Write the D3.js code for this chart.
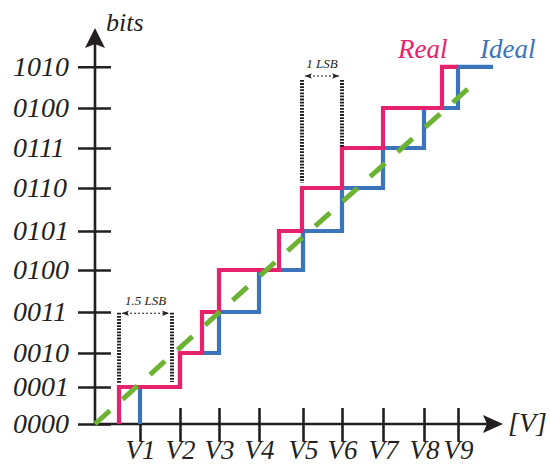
<!DOCTYPE html>
<html>
<head>
<meta charset="utf-8">
<script src="https://cdn.jsdelivr.net/npm/d3@7"></script>
<style>
  html, body { margin: 0; padding: 0; background: #ffffff; }
  svg { display: block; }
  text { font-family: "Liberation Serif", "Times New Roman", serif; font-style: italic; }
</style>
</head>
<body>
<svg id="chart" width="550" height="464"></svg>
<script>
// Input voltage thresholds (axis units) and their labels
const vLabels = ["V1", "V2", "V3", "V4", "V5", "V6", "V7", "V8", "V9"];
const vTicks = [1.125, 2.125, 3.1, 4.1, 5.2, 6.175, 7.2, 8.225, 9.075];

// Output codes and their heights on the vertical axis
const codeLabels = ["0000", "0001", "0010", "0011", "0100", "0101", "0110", "0111", "0100", "1010"];
const codeLevels = [0, 0.925, 1.775, 2.8, 3.85, 4.825, 5.9, 6.9, 7.9, 8.93];

// Transition voltages: ideal converter steps at V1..V9, real converter elsewhere
const idealSteps = [1.125, 2.125, 3.1, 4.1, 5.2, 6.175, 7.2, 8.225, 9.075];
const idealEnd = 9.95;
const realSteps = [0.6, 2.125, 2.675, 3.1, 4.6, 5.175, 6.175, 7.2, 8.675];
const realEnd = 9.075;

// Straight-line ideal transfer characteristic
const idealLine = [[0, 0], [9.625, 8.65]];

// LSB width annotations: x span, top, bottom of each side
const lsbMarks = [
  { label: "1.5 LSB", x0: 0.6, x1: 1.925, top: 2.78, bottom0: 1.02, bottom1: 1.05, arrowY: 2.77 },
  { label: "1 LSB",   x0: 5.175, x1: 6.175, top: 8.6, bottom0: 6.03, bottom1: 6.93, arrowY: 8.7 }
];

const colors = { real: "#e6226d", ideal: "#3b74ba", line: "#6cb334", ink: "#231f20" };
const serif = "'Liberation Serif', 'Times New Roman', serif";

const svg = d3.select("#chart");
const x = d3.scaleLinear().domain([0, 10.2]).range([95, 503]);
const y = d3.scaleLinear().domain([0, 9.9]).range([424, 28]);

const defs = svg.append("defs");
function arrowMarker(id, size) {
  defs.append("marker")
    .attr("id", id)
    .attr("viewBox", "0 0 10 10")
    .attr("refX", 10).attr("refY", 5)
    .attr("markerWidth", size).attr("markerHeight", size)
    .attr("markerUnits", "userSpaceOnUse")
    .attr("orient", "auto-start-reverse")
    .append("path")
    .attr("d", "M0,1 L10,5 L0,9 L2.5,5 Z")
    .attr("fill", colors.ink);
}
arrowMarker("small-arrow", 7);

// ---- axes ----
const yAxis = d3.axisLeft(y).tickValues(codeLevels).tickFormat((d, i) => codeLabels[i]);
const gy = svg.append("g").attr("transform", `translate(${x(0)},0)`).call(yAxis);
gy.select(".domain").remove();
gy.selectAll(".tick line")
  .attr("x1", -17).attr("x2", 16)
  .attr("stroke", colors.ink).attr("stroke-width", 2.6);
gy.selectAll(".tick text")
  .attr("x", 13 - x(0)).attr("dy", "0.3em")
  .attr("text-anchor", "start")
  .attr("font-size", 28).attr("fill", colors.ink)
  .style("font-family", serif).style("font-style", "italic");

const xAxis = d3.axisBottom(x).tickValues(vTicks).tickFormat((d, i) => vLabels[i]);
const gx = svg.append("g").attr("transform", `translate(0,${y(0)})`).call(xAxis);
gx.select(".domain").remove();
gx.selectAll(".tick line")
  .attr("y1", -16).attr("y2", 17)
  .attr("stroke", colors.ink).attr("stroke-width", 2.6);
gx.selectAll(".tick text")
  .attr("y", 35).attr("dy", 0)
  .attr("font-size", 27).attr("fill", colors.ink)
  .style("font-family", serif).style("font-style", "italic");

// axis lines with filled arrowheads
svg.append("line")
  .attr("x1", x(0)).attr("y1", y(0) + 1).attr("x2", x(0)).attr("y2", y(9.9) + 12)
  .attr("stroke", colors.ink).attr("stroke-width", 2.6);
svg.append("line")
  .attr("x1", x(0) - 1).attr("y1", y(0)).attr("x2", x(10.2) - 12).attr("y2", y(0))
  .attr("stroke", colors.ink).attr("stroke-width", 2.6);
const yt = [x(0), y(9.9)];
svg.append("path")
  .attr("d", `M${yt[0]},${yt[1]} L${yt[0] + 10},${yt[1] + 20} L${yt[0]},${yt[1] + 16} L${yt[0] - 10},${yt[1] + 20} Z`)
  .attr("fill", colors.ink);
const xt = [x(10.2), y(0)];
svg.append("path")
  .attr("d", `M${xt[0]},${xt[1]} L${xt[0] - 20},${xt[1] - 9} L${xt[0] - 16},${xt[1]} L${xt[0] - 20},${xt[1] + 9} Z`)
  .attr("fill", colors.ink);

svg.append("text").attr("x", 106).attr("y", 31)
  .attr("font-size", 26).attr("fill", colors.ink).text("bits");
svg.append("text").attr("x", 508).attr("y", 432)
  .attr("font-size", 28).attr("fill", colors.ink).text("[V]");

// ---- staircases ----
function stairPoints(steps, end) {
  const pts = [[steps[0], codeLevels[0]]];
  steps.forEach((s, i) => {
    pts.push([s, codeLevels[i]]);
    pts.push([s, codeLevels[i + 1]]);
  });
  pts.push([end, codeLevels[steps.length]]);
  return pts;
}
const line = d3.line().x(d => x(d[0])).y(d => y(d[1]));

svg.append("path")
  .attr("d", line(stairPoints(idealSteps, idealEnd)))
  .attr("fill", "none").attr("stroke", colors.ideal)
  .attr("stroke-width", 4.2).attr("stroke-linejoin", "miter");
svg.append("path")
  .attr("d", line(stairPoints(realSteps, realEnd)))
  .attr("fill", "none").attr("stroke", colors.real)
  .attr("stroke-width", 4.2).attr("stroke-linejoin", "miter");

// ideal straight line, dashed
svg.append("path")
  .attr("d", line(idealLine))
  .attr("fill", "none").attr("stroke", colors.line)
  .attr("stroke-width", 5).attr("stroke-dasharray", "20,17");

// ---- LSB annotations ----
lsbMarks.forEach(m => {
  const g = svg.append("g");
  g.append("line")
    .attr("x1", x(m.x0)).attr("x2", x(m.x0)).attr("y1", y(m.top)).attr("y2", y(m.bottom0))
    .attr("stroke", colors.ink).attr("stroke-width", 4).attr("stroke-dasharray", "1.8,1.3");
  g.append("line")
    .attr("x1", x(m.x1)).attr("x2", x(m.x1)).attr("y1", y(m.top)).attr("y2", y(m.bottom1))
    .attr("stroke", colors.ink).attr("stroke-width", 4).attr("stroke-dasharray", "1.8,1.3");
  g.append("line")
    .attr("x1", x(m.x0) + 3).attr("x2", x(m.x1) - 3)
    .attr("y1", y(m.arrowY)).attr("y2", y(m.arrowY))
    .attr("stroke", colors.ink).attr("stroke-width", 1.1).attr("stroke-dasharray", "2,2")
    .attr("marker-start", "url(#small-arrow)").attr("marker-end", "url(#small-arrow)");
  g.append("text")
    .attr("x", (x(m.x0) + x(m.x1)) / 2).attr("y", y(m.arrowY) - 8)
    .attr("text-anchor", "middle").attr("font-size", 13).attr("fill", colors.ink)
    .text(m.label);
});

// ---- series labels ----
svg.append("text").attr("x", 398).attr("y", 58)
  .attr("font-size", 27).attr("fill", colors.real).text("Real");
svg.append("text").attr("x", 480).attr("y", 58)
  .attr("font-size", 27).attr("fill", colors.ideal).text("Ideal");
</script>
</body>
</html>
